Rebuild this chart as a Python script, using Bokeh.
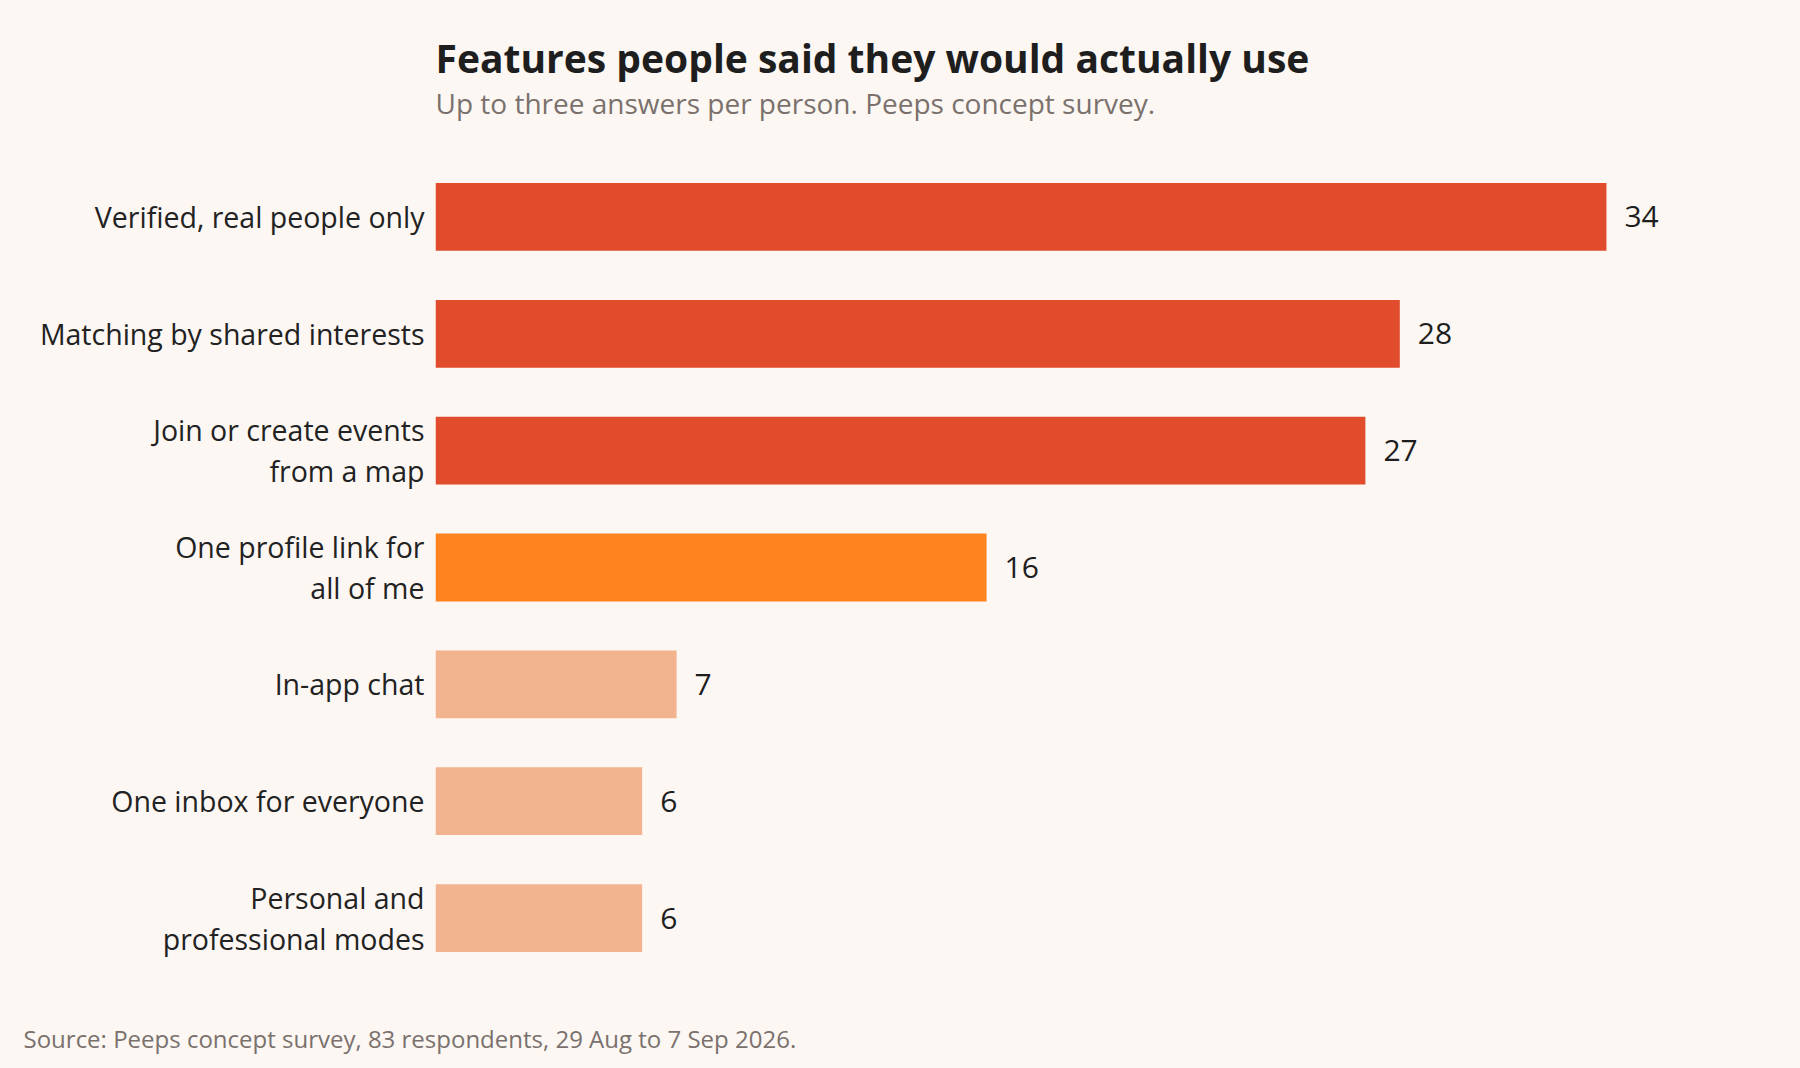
from bokeh.plotting import figure
from bokeh.models import (FactorRange, Range1d, ColumnDataSource, LabelSet, Title,
                          GlobalInlineStyleSheet)
from bokeh.core.properties import value
from bokeh.transform import factor_cmap
from bokeh.embed import file_html
from bokeh.resources import INLINE

# ---- data ----
categories = [
    "Verified, real people only",
    "Matching by shared interests",
    "Join or create events\nfrom a map",
    "One profile link for\nall of me",
    "In-app chat",
    "One inbox for everyone",
    "Personal and\nprofessional modes",
]
values = [34, 28, 27, 16, 7, 6, 6]
tiers = ["top", "top", "top", "mid", "low", "low", "low"]
value_labels = [str(v) for v in values]

title_text = "Features people said they would actually use"
subtitle_text = "Up to three answers per person. Peeps concept survey."
source_text = "Source: Peeps concept survey, 83 respondents, 29 Aug to 7 Sep 2026."

# ---- style / layout ----
BG = "#fcf7f3"
FONT = "Open Sans"
W, H = 1800, 1068
LEFT, TOP, BOTTOM, RIGHT = 435, 158, 92, 0
PX_PER_UNIT = 34.44
frame_w = W - LEFT - RIGHT

src = ColumnDataSource(dict(cat=categories, val=values, tier=tiers, lab=value_labels))

p = figure(width=W, height=H, output_backend="svg", toolbar_location=None,
           y_range=FactorRange(factors=categories[::-1], range_padding=0),
           x_range=Range1d(0, frame_w / PX_PER_UNIT),
           min_border_left=LEFT, min_border_top=TOP, min_border_bottom=BOTTOM,
           min_border_right=RIGHT, title=None)
p.background_fill_color = BG
p.border_fill_color = BG
p.outline_line_color = None
p.grid.visible = False
p.xaxis.visible = False

p.hbar(y="cat", right="val", left=0, height=0.58, source=src, line_color=None,
       fill_color=factor_cmap("tier", palette=["#e04c2c", "#ff8420", "#f2b48e"],
                              factors=["top", "mid", "low"]))

yax = p.yaxis[0]
yax.axis_line_color = None
yax.major_tick_line_color = None
yax.minor_tick_line_color = None
yax.major_tick_out = 0
yax.major_tick_in = 0
yax.major_label_standoff = 11
yax.major_label_text_font = FONT
yax.major_label_text_font_size = "28.5px"
yax.major_label_text_color = "#222222"
yax.major_label_text_line_height = 1.08

p.add_layout(LabelSet(x="val", y="cat", text="lab", source=src, x_offset=18,
                      text_baseline="middle", text_align="left",
                      text_font=value(FONT), text_font_size="30px", text_color="#1e1e1e"))

# panels above the frame, nearest first: spacer, subtitle, title
p.add_layout(Title(text=" ", text_font=FONT, text_font_size="10px", standoff=21), "above")
p.add_layout(Title(text=subtitle_text, align="left", text_font=FONT, text_font_size="28px",
                   text_font_style="normal", text_color="#7a716d", standoff=0), "above")
p.add_layout(Title(text=title_text, align="left", text_font=FONT, text_font_size="39px",
                   text_font_style="bold", text_color="#1e1e1e", standoff=-4), "above")

# panels below the frame: spacer, then source note
p.add_layout(Title(text=" ", text_font=FONT, text_font_size="10px", standoff=27), "below")
p.add_layout(Title(text=source_text, align="left", offset=23 - LEFT, text_font=FONT,
                   text_font_size="24px", text_font_style="normal", text_color="#7a716d",
                   standoff=0), "below")

p.stylesheets = [GlobalInlineStyleSheet(css=f"html, body {{ background-color: {BG}; }}")]

open("out.html", "w").write(file_html(p, INLINE))
